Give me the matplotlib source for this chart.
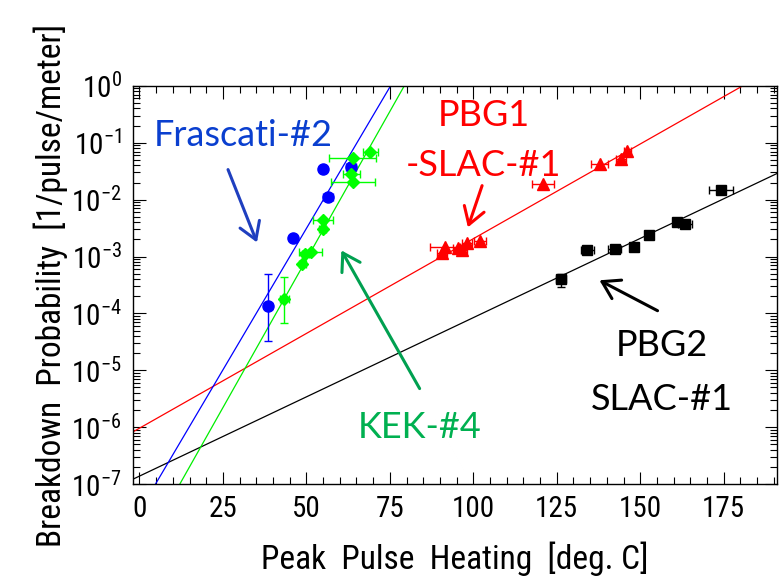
import numpy as np
import matplotlib
matplotlib.use("Agg")
import matplotlib.pyplot as plt
from matplotlib.ticker import MultipleLocator, LogLocator, NullFormatter
from matplotlib import font_manager

# =============================
# DATA
# =============================
blue_x = [38.6, 46.1, 55.0, 56.5, 63.5]
blue_y = [1.34e-4, 2.08e-3, 3.44e-2, 1.11e-2, 3.77e-2]
blue_xerr = [1.0, 0.0, 0.0, 1.5, 1.5]
blue_yerr_lo = [1.01e-4, 0, 0, 0, 0]
blue_yerr_hi = [3.66e-4, 0, 0, 0, 0]

green_x = [43.4, 48.8, 49.7, 51.3, 54.9, 54.9, 64.0, 63.5, 63.9, 69.2]
green_y = [1.76e-4, 7.3e-4, 1.09e-3, 1.18e-3, 3.1e-3, 4.4e-3, 2.06e-2, 2.77e-2, 5.3e-2, 6.9e-2]
green_xerr = [1.4, 1.0, 1.0, 3.5, 1.0, 3.0, 6.5, 2.6, 7.1, 2.2]
green_yerr_lo = [1.08e-4, 0, 0, 0, 0, 0, 0, 0, 0, 0]
green_yerr_hi = [2.54e-4, 0, 0, 0, 0, 0, 0, 0, 0, 0]

red_x = [90.7, 91.4, 95.4, 96.7, 98.2, 101.9, 120.9, 137.9, 144.1, 146.1]
red_y = [1.16e-3, 1.48e-3, 1.39e-3, 1.29e-3, 1.74e-3, 1.89e-3, 1.92e-2, 4.15e-2, 5.15e-2, 7.2e-2]
red_xerr = [1.5, 4.5, 1.5, 1.5, 1.5, 1.8, 3.4, 2.5, 1.5, 1.0]

black_x = [126.2, 134.2, 142.3, 148.1, 152.6, 160.9, 163.4, 174.1]
black_y = [3.95e-4, 1.29e-3, 1.35e-3, 1.48e-3, 2.38e-3, 3.97e-3, 3.67e-3, 1.47e-2]
black_xerr = [1.5, 2.0, 2.0, 1.0, 1.0, 1.0, 2.0, 3.6]
black_yerr_lo = [1.05e-4, 0, 0, 0, 0, 0, 0, 0]
black_yerr_hi = [0.95e-4, 0, 0, 0, 0, 0, 0, 0]

# exponential fits: log10(P) = a + b*T
fit_a = {"blue": -7.477, "green": -8.258, "red": -6.017, "black": -6.859}
fit_b = {"blue": 0.0994, "green": 0.1041, "red": 0.0333, "black": 0.02785}

x_ticks = [0, 25, 50, 75, 100, 125, 150, 175]

# =============================
# STYLE
# =============================
installed = {f.name for f in font_manager.fontManager.ttflist}
narrow_pick = [f for f in ["Liberation Sans Narrow", "Roboto Condensed", "Open Sans Condensed"]
               if f in installed]
sans = narrow_pick[:1] + ["Liberation Sans", "DejaVu Sans"]
ann = ["Lato", "DejaVu Sans"]
plt.rcParams["font.family"] = sans
plt.rcParams["mathtext.fontset"] = "custom"
plt.rcParams["mathtext.rm"] = sans[0]
plt.rcParams["mathtext.default"] = "rm"

fig = plt.figure(figsize=(7.81, 5.84), dpi=100)
ax = fig.add_axes([0.170, 0.171, 0.825, 0.682])

# =============================
# FIT LINES
# =============================
xx = np.linspace(-2, 191, 400)
line_colors = {"blue": "#0000ff", "green": "#00ee00", "red": "#ff0000", "black": "#000000"}
for key in ["red", "black", "blue", "green"]:
    ax.plot(xx, 10 ** (fit_a[key] + fit_b[key] * xx), color=line_colors[key], lw=0.9, zorder=2)

# =============================
# DATA POINTS
# =============================
eb = dict(ls="none", capsize=3, elinewidth=1.0, capthick=1.0, zorder=3)
ax.errorbar(blue_x, blue_y, xerr=blue_xerr, yerr=[blue_yerr_lo, blue_yerr_hi],
            fmt="o", color="#0000ff", ms=8, **eb)
ax.errorbar(green_x, green_y, xerr=green_xerr, yerr=[green_yerr_lo, green_yerr_hi],
            fmt="D", color="#00ff00", ms=6.5, **eb)
ax.errorbar(red_x, red_y, xerr=red_xerr, fmt="^", color="#ff0000", ms=8, **eb)
ax.errorbar(black_x, black_y, xerr=black_xerr, yerr=[black_yerr_lo, black_yerr_hi],
            fmt="s", color="#000000", ms=7.5, **eb)

# =============================
# AXES
# =============================
ax.set_yscale("log")
ax.set_xlim(-2, 191)
ax.set_ylim(1e-7, 1)
ax.set_xticks(x_ticks)
ax.xaxis.set_minor_locator(MultipleLocator(5))
ax.yaxis.set_major_locator(LogLocator(base=10, numticks=10))
ax.yaxis.set_minor_locator(LogLocator(base=10, subs=np.arange(2, 10), numticks=20))
ax.yaxis.set_minor_formatter(NullFormatter())
ax.tick_params(which="both", direction="in", top=True, right=True, width=0.8)
ax.tick_params(which="major", length=9, labelsize=21, pad=8)
ax.tick_params(which="minor", length=5)
for s in ax.spines.values():
    s.set_linewidth(1.0)

ax.set_xlabel("Peak  Pulse  Heating  [deg. C]", fontsize=24, labelpad=13)
ax.set_ylabel("Breakdown  Probability  [1/pulse/meter]", fontsize=24, labelpad=2)

# =============================
# ANNOTATIONS
# =============================
def px(xp, yp):
    # pixel position in figure -> figure fraction
    return (xp / 781.0, 1 - yp / 584.0)

fs_ann = 26
fig.text(*px(243, 135), "Frascati-#2", color="#0a3fcf", fontsize=fs_ann,
         family=ann, ha="center", va="center")
fig.text(*px(484, 115), "PBG1", color="#ff0000", fontsize=fs_ann,
         family=ann, ha="center", va="center")
fig.text(*px(483, 166), "-SLAC-#1", color="#ff0000", fontsize=fs_ann,
         family=ann, ha="center", va="center")
fig.text(*px(420, 428), "KEK-#4", color="#00b050", fontsize=fs_ann,
         family=ann, ha="center", va="center")
fig.text(*px(662, 345), "PBG2", color="#000000", fontsize=fs_ann,
         family=ann, ha="center", va="center")
fig.text(*px(662, 399), "SLAC-#1", color="#000000", fontsize=fs_ann,
         family=ann, ha="center", va="center")

arrows = [
    ((227, 167), (258, 245), "#1f3fbf"),
    ((483, 183), (467, 230), "#ff0000"),
    ((421, 391), (340, 248), "#00a050"),
    ((660, 312), (597, 279), "#000000"),
]
for (x0, y0), (x1, y1), c in arrows:
    fig.patches.append(matplotlib.patches.FancyArrowPatch(
        px(x0, y0), px(x1, y1), transform=fig.transFigure,
        arrowstyle="->,head_length=8,head_width=5", color=c, lw=2.2,
        mutation_scale=1.5))

fig.savefig("out.png", dpi=100)
